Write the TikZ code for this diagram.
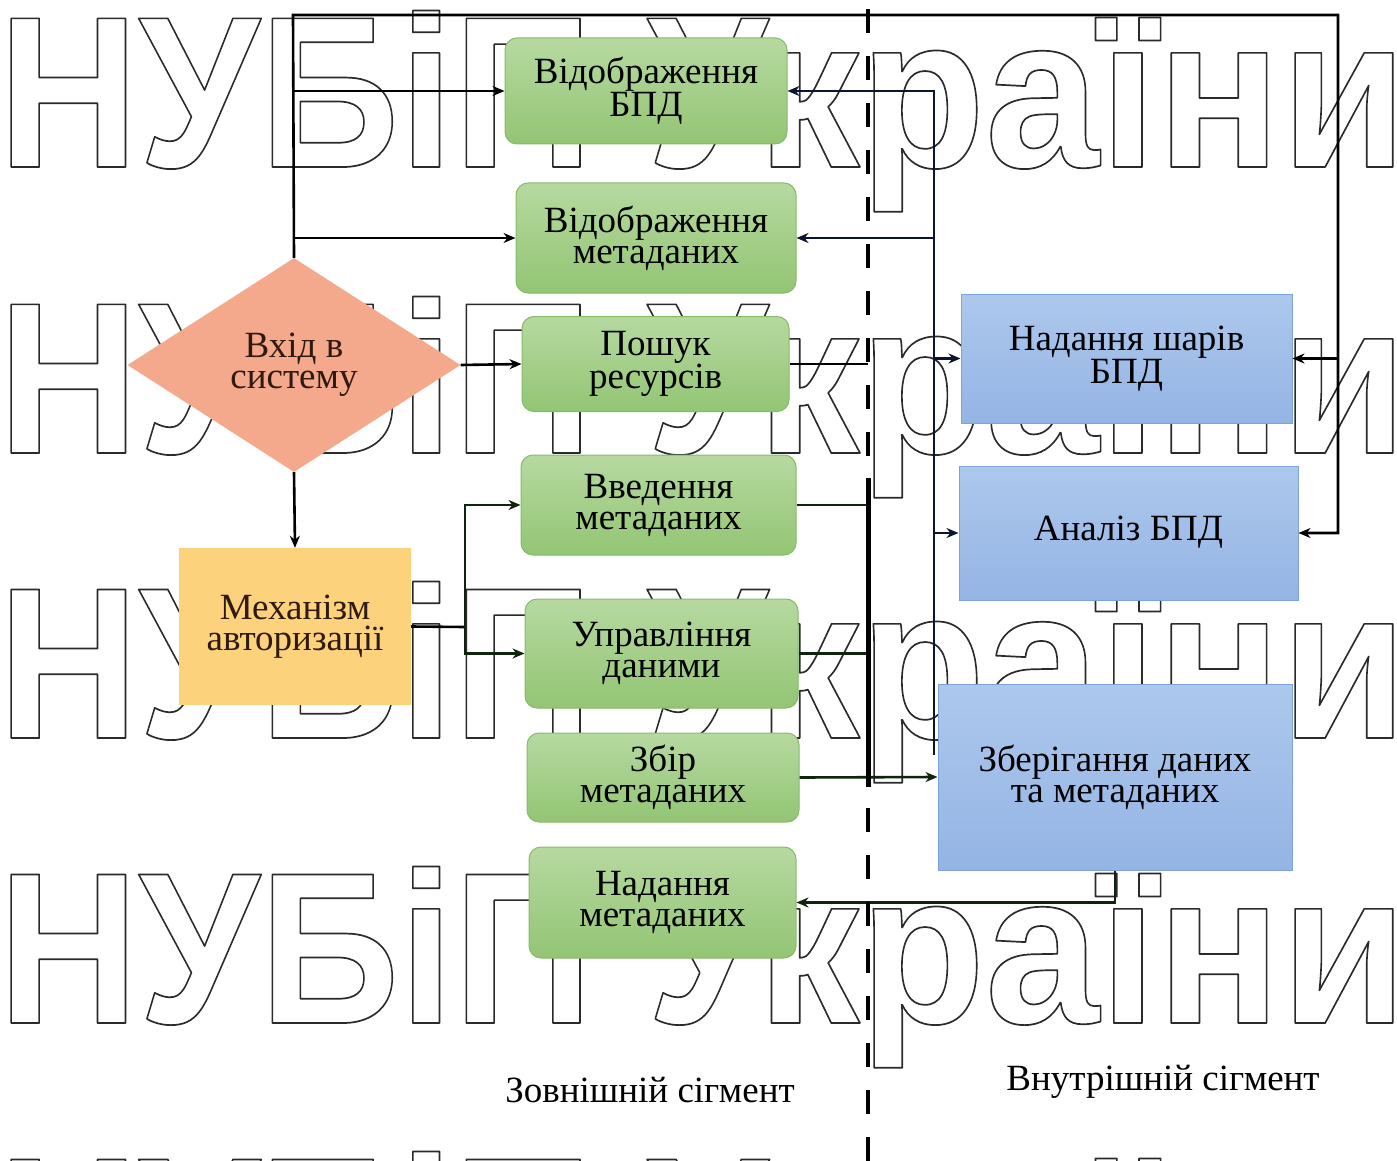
\documentclass[tikz,border=0pt]{standalone}
\usepackage{graphicx}
\usepackage{fontspec}
\setmainfont{Liberation Serif}
\newfontfamily\wmfont{Liberation Sans}
\usetikzlibrary{shapes.geometric,arrows.meta}
\definecolor{gtop}{HTML}{B6D9A0}
\definecolor{gbot}{HTML}{93C574}
\definecolor{gbord}{HTML}{86BB68}
\definecolor{btop}{HTML}{ADC8ED}
\definecolor{bbot}{HTML}{94B4E4}
\definecolor{bbord}{HTML}{7BA3DA}
\definecolor{salmon}{HTML}{F4A98C}
\definecolor{ora}{HTML}{FDD27C}
\definecolor{wmline}{HTML}{2A2A2A}
\definecolor{dkgreen}{HTML}{0E240C}
\definecolor{dknavy}{HTML}{0B1530}
\definecolor{dtext}{HTML}{2E1A10}
\newcommand\outlined[1]{\special{pdf:literal direct 1 Tr 1.7 w 1 j}#1\special{pdf:literal direct 0 Tr}}
\begin{document}
\begin{tikzpicture}[x=1pt,y=-1pt,
  txt/.style={font=\fontsize{37}{31}\selectfont, align=center, inner sep=0pt},
  gbox/.style={txt, rounded corners=12pt, draw=gbord, line width=1pt, top color=gtop, bottom color=gbot},
  bbox/.style={txt, draw=bbord, line width=1pt, top color=btop, bottom color=bbot},
  wm/.style={anchor=base west, inner sep=0pt, text=wmline, font=\wmfont\bfseries\fontsize{216}{216}\selectfont},
  conn/.style={line width=2.6pt, draw=black},
  arr/.style={conn, -{Stealth[length=12pt,width=10pt]}},
  bus/.style={line width=5pt, draw=black},
  divider/.style={line width=4.5pt, draw=black, dash pattern=on 24pt off 23pt}
]
\useasboundingbox (0,0) rectangle (1397,1161);
\fill[white] (0,0) rectangle (1397,1161);
% watermark
\begin{scope}
\clip (0,0) rectangle (1397,1161);
\foreach \yy in {167,453,738,1023,1308}{
  \node[wm] (wma-\yy) at (-2,\yy) {\outlined{\scalebox{0.9}[1]{НУБіП У}}};
  \node[wm] (wmb-\yy) at (757,\yy) {\outlined{\scalebox{0.95}[1]{країни}}};
}
\end{scope}
% nodes
\node[gbox, minimum width=282pt, minimum height=106pt] (vbpd) at (646,91) {Відображення\\БПД};
\node[gbox, minimum width=280pt, minimum height=110pt] (vmeta) at (656,238) {Відображення\\метаданих};
\node[gbox, minimum width=267pt, minimum height=95pt] (poshuk) at (655.5,364) {Пошук\\ресурсів};
\node[gbox, minimum width=275pt, minimum height=100pt] (vved) at (658.5,505) {Введення\\метаданих};
\node[gbox, minimum width=273pt, minimum height=109pt] (uprav) at (661.5,653.5) {Управління\\даними};
\node[gbox, minimum width=272pt, minimum height=89pt] (zbir) at (663,777.5) {Збір\\метаданих};
\node[gbox, minimum width=267pt, minimum height=111pt] (nadmeta) at (662.5,902.5) {Надання\\метаданих};
\node[bbox, minimum width=331pt, minimum height=129pt] (nshar) at (1126.5,358.5) {Надання шарів\\БПД};
\node[bbox, minimum width=339pt, minimum height=134pt] (analiz) at (1128.5,533) {\raisebox{9pt}{Аналіз БПД}};
\node[bbox, minimum width=354pt, minimum height=186pt] (zber) at (1115,777) {Зберігання даних\\та метаданих};
\node[txt, diamond, fill=salmon, minimum width=333pt, minimum height=214pt, text=dtext] (vhid) at (294,365) {Вхід в\\систему};
\node[txt, fill=ora, minimum width=232pt, minimum height=157pt, text=dtext] (meh) at (295,626.5) {Механізм\\авторизації};
\node[txt] (zovn) at (650,1090) {Зовнішній сігмент};
\node[txt] (vnutr) at (1163,1082) {Внутрішній сігмент};
% helper coordinates
\coordinate (tl) at (293,15);
\coordinate (tr) at (1338,15);
\coordinate (mj) at (465,627);
\coordinate (bustop) at (868,478);
\coordinate (busbot) at (868,787);
\coordinate (vs) at (934,755);
% connectors
\draw[arr] (vhid.north) -- (tl) -- (tr) |- (analiz.east);
\draw[arr] (tr |- nshar.east) -- (nshar.east);
\draw[arr] (tl |- vbpd.west) -- (vbpd.west);
\draw[arr] (tl |- vmeta.west) -- (vmeta.west);
\draw[arr] (vhid.east) -- (poshuk.west);
\draw[arr] (vhid.south) -- (meh.north);
\draw[conn] (meh.east) -- (mj);
\draw[arr, draw=dkgreen] (mj) |- (vved.west);
\draw[arr, draw=dkgreen] (mj) |- (uprav.west);
\draw[conn] (poshuk.east) -- (poshuk.east -| bustop);
\draw[conn, draw=dkgreen] (vved.east) -- (vved.east -| bustop);
\draw[conn, draw=dkgreen] (uprav.east) -- (uprav.east -| bustop);
\draw[arr, draw=dkgreen] (zbir.east) -- (zber.west);
\draw[bus] (bustop) -- (busbot);
\draw[arr, draw=dknavy] (vs) |- (vbpd.east);
\draw[arr, draw=dknavy] (vs |- vmeta.east) -- (vmeta.east);
\draw[arr, draw=dknavy] (vs |- nshar.west) -- (nshar.west);
\draw[arr, draw=dknavy] (vs |- analiz.west) -- (analiz.west);
\draw[arr, draw=dkgreen] (zber.south) |- (nadmeta.east);
\draw[divider] (868,9) -- (868,1161);
\end{tikzpicture}
\end{document}
